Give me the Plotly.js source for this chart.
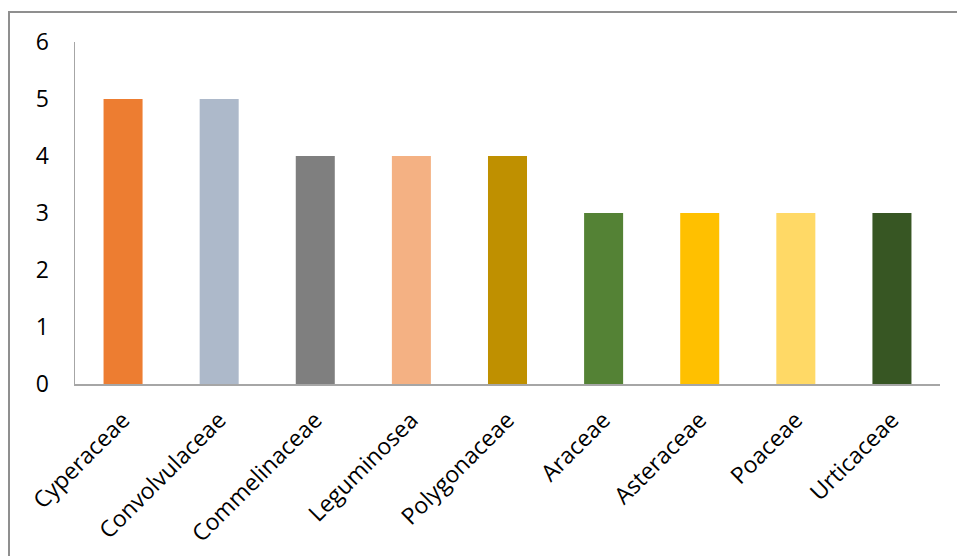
<!DOCTYPE html>
<html><head><meta charset="utf-8">
<script src="https://cdn.plot.ly/plotly-3.0.1.min.js"></script>
<style>
html,body{margin:0;padding:0;background:#fff;overflow:hidden;}
#wrap{position:relative;width:957px;height:556px;}
#frame{position:absolute;left:8px;top:11px;width:1000px;height:700px;border-left:2px solid #8f8f8f;border-top:2px solid #8f8f8f;pointer-events:none;}
#chart{position:absolute;left:0;top:0;width:957px;height:556px;}
</style></head>
<body><div id="wrap"><div id="chart"></div><div id="frame"></div></div>
<script>
const families = ["Cyperaceae","Convolvulaceae","Commelinaceae","Leguminosea","Polygonaceae","Araceae","Asteraceae","Poaceae","Urticaceae"];
const counts = [5,5,4,4,4,3,3,3,3];
const barColors = ["#ED7D31","#ADB9CA","#7F7F7F","#F4B183","#BF9000","#548235","#FFC000","#FFD966","#375623"];
const yTicks = [0,1,2,3,4,5,6];

Plotly.newPlot('chart',[{
  type:'bar', x:families, y:counts,
  marker:{color:barColors, line:{width:0}},
  hoverinfo:'none'
}],{
  width:957,height:556,
  margin:{l:75,r:17,t:42,b:172},
  paper_bgcolor:'rgba(0,0,0,0)', plot_bgcolor:'rgba(0,0,0,0)',
  bargap:0.594,
  font:{family:'"Open Sans", sans-serif', size:23, color:'#000'},
  xaxis:{showline:true, linecolor:'#a6a6a6', linewidth:1.5, ticks:'', tickangle:-45,
         tickfont:{size:23}, ticklabelstandoff:12, showgrid:false, zeroline:false, fixedrange:true},
  yaxis:{range:[0,6], tickvals:yTicks, showline:true, linecolor:'#a6a6a6', linewidth:1.5,
         ticks:'', showgrid:false, zeroline:false, tickfont:{size:23}, ticklabelstandoff:20, fixedrange:true},
  showlegend:false
},{displayModeBar:false, staticPlot:true});
</script></body></html>
